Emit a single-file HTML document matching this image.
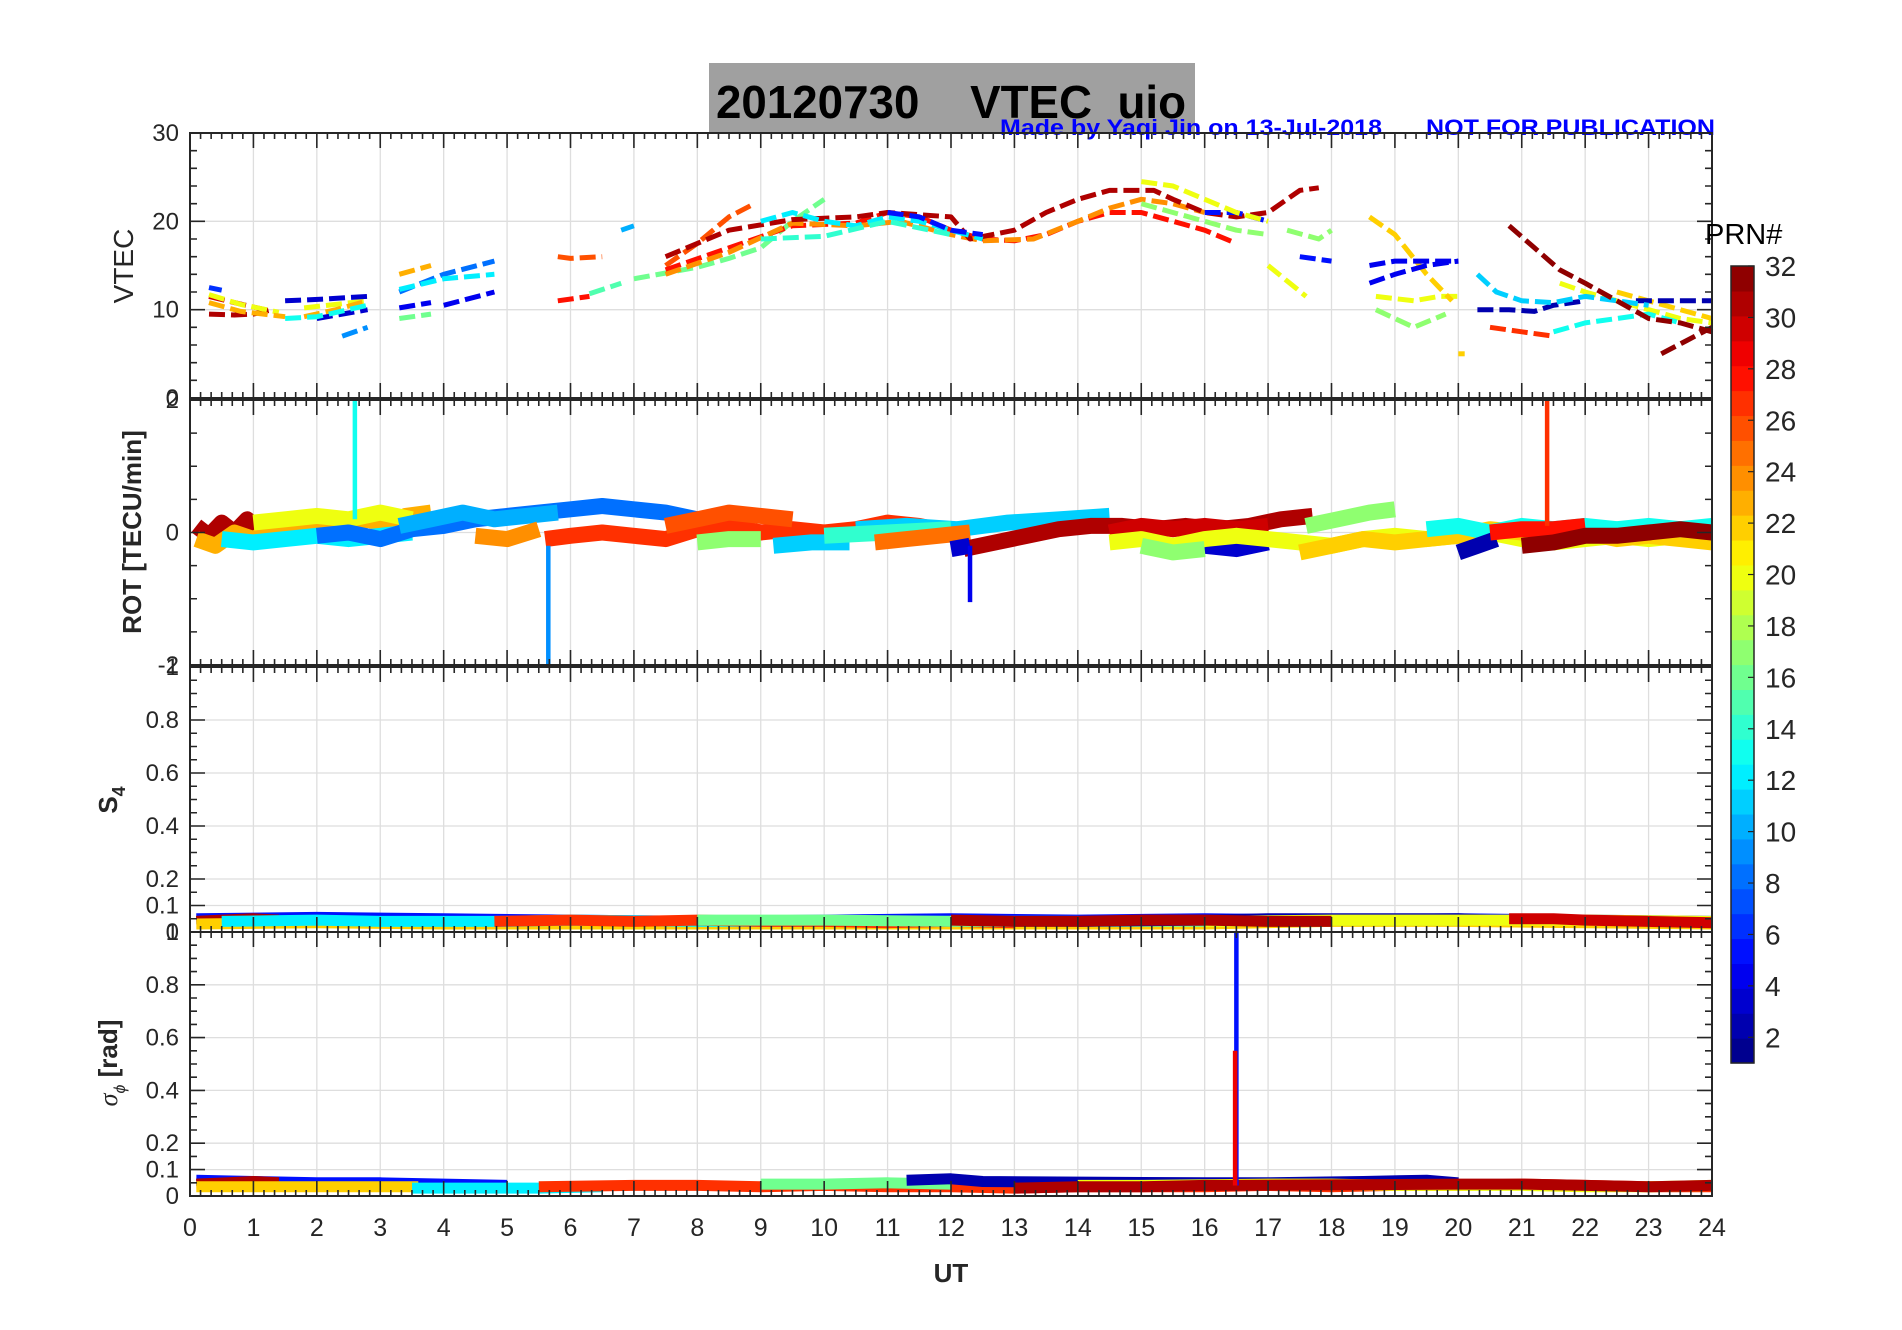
<!DOCTYPE html>
<html><head><meta charset="utf-8">
<style>
html,body{margin:0;padding:0;background:#fff;}
svg{display:block;font-family:"Liberation Sans",sans-serif;}
</style></head>
<body>
<svg id="fig" width="1902" height="1330" viewBox="0 0 1902 1330" xmlns="http://www.w3.org/2000/svg">
  <rect x="0" y="0" width="1902" height="1330" fill="#fff"/>
  <rect x="709" y="63" width="486" height="70" fill="#a0a0a0"/>
  <text x="716" y="118" font-size="46" font-weight="bold" fill="#000" xml:space="preserve" style="white-space:pre" textLength="470" lengthAdjust="spacingAndGlyphs">20120730    VTEC  uio</text>
  <text x="1000" y="135" font-size="22" font-weight="bold" fill="#0000ff" textLength="382" lengthAdjust="spacingAndGlyphs">Made by Yaqi Jin on 13-Jul-2018</text>
  <text x="1426" y="135" font-size="22" font-weight="bold" fill="#0000ff" textLength="289" lengthAdjust="spacingAndGlyphs">NOT FOR PUBLICATION</text>
  <g id="layer"></g>
</svg>
<script>
// ---------- DATA ----------
const vtecPrn = [31,30,20,20,23,23,6,3,3,13,8,12,4,4,23,9,16,26,28,15,10,26,16,28,24,31,12,14,5,5,5,20,20,20,20,17,17,17,22,22,22,4,4,2,2,11,27,13,32,32];
const vtecT = [
 [0.3,0.7,1.0,1.3],[0.3,0.7,1.0,1.3],[0.3,0.8,1.4],[1.8,2.3,2.8],[0.3,0.8,1.5],[1.8,2.3,2.8],[0.3,0.5],
 [1.5,2.1,2.8],[2.0,2.8],[1.5,2.0,2.8],[3.3,4.0,4.8],[3.3,4.0,4.8],[3.3,3.8],[4.0,4.8],[3.3,3.8],[2.4,2.8],[3.3,3.8],
 [5.8,6.0,6.5],[5.8,6.3],[6.3,6.8],[6.8,7.0],
 [7.5,8.0,8.5,8.9],[7.0,8.0,8.5,9.0,9.5,10.0],
 [7.5,8.5,9.5,10.5,11.0,11.5,12.0,12.5,13.0,13.5,14.0,14.5,15.0,15.5,16.0,16.5],
 [7.5,8.5,9.5,10.5,11.2,12.0,12.5,13.3,14.0,14.5,15.0,15.5,16.0],
 [7.5,8.5,9.5,10.5,11.0,12.0,12.3,13.0,13.5,14.0,14.5,15.2,15.5,16.0,16.5,17.0,17.5,17.8],
 [9.0,9.5,10.0,10.5,11.0,11.5,12.0,12.5],[9.0,10.0,11.0,12.0],
 [11.0,11.5,12.0,12.5],[16.0,16.5,17.0],[17.5,18.0],
 [15.0,15.5,16.0,16.5,17.0],[17.0,17.6],[18.7,19.3,19.7,20.0],[21.6,22.0,22.5,23.0,23.5,24.0],
 [15.0,15.5,16.0,16.5,17.0],[17.3,17.8,18.0],[18.7,19.3,19.8],
 [18.6,19.0,19.5,19.9],[20.0,20.1],[22.5,23.0,23.5,24.0],
 [18.6,19.0,19.5,20.0],[18.6,19.0,20.0],
 [20.3,20.8,21.2,21.5,22.0],[22.8,23.5,24.0],
 [20.3,20.6,21.0,21.5,22.0,22.5,23.0],[20.5,21.0,21.5],[21.5,22.0,22.5,23.0,23.5],
 [20.8,21.2,21.6,22.0,22.5,23.0,23.5,24.0],[23.2,23.6,24.0]
];
const vtecV = [
 [9.5,9.4,9.5,10.0],[11.5,10.8,10.3,9.8],[11.7,10.6,9.7],[10.2,10.6,11.0],[10.8,9.8,9.2],[9.2,10.0,11.0],[12.5,12.2],
 [11.0,11.2,11.5],[9.0,10.0],[9.0,9.2,10.5],[12.0,14.0,15.5],[12.3,13.5,14.0],[10.2,10.8],[10.5,12.0],[14.0,15.0],[7.0,8.0],[9.0,9.5],
 [16.0,15.8,16.0],[11.0,11.5],[11.8,13.0],[19.0,19.5],
 [15.0,17.5,20.5,22.0],[13.5,14.8,15.8,17.0,20.0,22.5],
 [14.5,17.0,19.5,19.8,21.0,20.5,19.0,18.0,17.8,18.5,20.0,21.0,21.0,20.0,19.0,17.5],
 [14.0,16.5,19.8,19.5,20.0,18.5,17.8,18.0,20.0,21.5,22.5,22.0,21.0],
 [16.0,19.0,20.2,20.5,21.0,20.5,18.0,19.0,21.0,22.5,23.5,23.5,22.5,21.0,20.5,21.0,23.5,23.8],
 [20.0,21.0,20.0,19.5,20.5,20.0,19.0,18.0],[18.0,18.3,20.0,18.5],
 [21.0,20.5,19.0,18.5],[21.0,21.0,20.0],[16.0,15.5],
 [24.5,24.0,22.5,21.0,20.0],[15.0,11.5],[11.5,11.0,11.5,11.5],[13.0,12.0,11.0,10.0,9.0,8.5],
 [22.0,21.0,20.0,19.0,18.5],[19.0,18.0,19.0],[10.0,8.0,9.5],
 [20.5,18.5,14.0,11.0],[5.0,5.0],[12.0,11.0,10.0,9.0],
 [13.0,14.0,15.0,15.5],[15.0,15.5,15.5],
 [10.0,10.0,9.8,10.5,11.0],[11.0,11.0,11.0],
 [14.0,12.0,11.0,10.8,11.5,11.0,10.5],[8.0,7.5,7.0],[7.5,8.5,9.0,9.5,8.5],
 [19.5,17.0,14.5,13.0,11.0,9.0,8.5,7.5],[5.0,6.5,8.0]
];

const rotPrn = [31,23,20,12,8,10,24,27,26,17,11,11,14,25,31,30,3,3,20,17,17,22,13,2,28,32];
const rotT = [
 [0.1,0.3,0.5,0.7,0.9,1.1,1.3],
 [0.1,0.4,0.7,1.0,1.3,1.6,1.9,2.2,2.5,2.8,3.1,3.4,3.8],
 [1.0,1.5,2.0,2.5,3.0,3.5],
 [0.5,1.0,1.5,2.0,2.5,3.0,3.5],
 [2.0,2.5,3.0,3.5,4.0,4.5,5.0,5.5,6.0,6.5,7.0,7.5,8.0],
 [3.3,3.8,4.3,4.8,5.3,5.8],
 [4.5,5.0,5.5],
 [5.6,6.0,6.5,7.0,7.5,8.0,8.5,9.0,9.5,10.0,10.5,11.0,11.5,12.0],
 [7.5,8.0,8.5,9.0,9.5],
 [8.0,8.5,9.0],
 [9.2,9.8,10.4],
 [10.5,11.3,12.1,12.9,13.7,14.5],
 [10.0,11.0,12.0],
 [10.8,11.3,11.8,12.3],
 [12.2,12.7,13.2,13.7,14.2,14.7,15.2,15.7,16.2,16.7,17.2,17.7],
 [14.5,15.0,15.5,16.0,16.5,17.0],
 [12.0,12.3],
 [16.0,16.5,17.0],
 [14.5,15.0,15.5,16.0,16.5,17.0,17.5,18.0,18.5,19.0,19.5,20.0,20.5,21.0,21.5,22.0,22.5,23.0,23.5,24.0],
 [15.0,15.5,16.0],
 [17.6,18.1,18.6,19.0],
 [17.5,18.0,18.5,19.0,19.5,20.0,20.5,21.0,21.5,22.0,22.5,23.0,23.5,24.0],
 [19.5,20.0,20.5,21.0,21.5,22.0,22.5,23.0,23.5,24.0],
 [20.0,20.3,20.6],
 [20.5,21.0,21.5,22.0],
 [21.0,21.5,22.0,22.5,23.0,23.5,24.0]
];
const rotV = [
 [0.1,-0.05,0.15,0.0,0.2,0.05,0.1],
 [-0.1,-0.2,0.0,-0.1,0.05,0.1,0.0,0.15,0.05,0.2,0.1,0.25,0.3],
 [0.15,0.2,0.25,0.2,0.3,0.2],
 [-0.1,-0.15,-0.1,-0.05,-0.1,-0.05,0.0],
 [-0.05,0.0,-0.1,0.05,0.1,0.2,0.25,0.3,0.35,0.4,0.35,0.3,0.2],
 [0.1,0.2,0.3,0.2,0.25,0.3],
 [-0.05,-0.1,0.05],
 [-0.1,-0.05,0.0,-0.05,-0.1,0.05,0.1,0.0,0.05,0.0,0.05,0.15,0.1,0.0],
 [0.1,0.2,0.3,0.25,0.2],
 [-0.15,-0.1,-0.1],
 [-0.2,-0.15,-0.15],
 [0.05,0.1,0.05,0.15,0.2,0.25],
 [-0.05,0.0,0.05],
 [-0.15,-0.1,-0.05,0.0],
 [-0.25,-0.15,-0.05,0.05,0.1,0.1,0.05,0.1,0.05,0.1,0.2,0.25],
 [0.0,0.1,0.05,0.1,0.05,0.1],
 [-0.25,-0.2],
 [-0.2,-0.25,-0.15],
 [-0.15,-0.1,-0.2,-0.1,-0.05,-0.1,-0.15,-0.2,-0.1,-0.05,-0.1,-0.05,0.0,-0.1,-0.15,-0.1,-0.05,-0.1,-0.05,-0.1],
 [-0.2,-0.3,-0.25],
 [0.1,0.2,0.3,0.35],
 [-0.3,-0.2,-0.1,-0.15,-0.1,-0.05,0.05,0.0,-0.05,0.0,-0.1,-0.05,-0.1,-0.15],
 [0.05,0.1,0.0,0.1,0.05,0.1,0.05,0.1,0.05,0.1],
 [-0.3,-0.2,-0.1],
 [0.0,0.05,0.05,0.1],
 [-0.2,-0.15,-0.05,-0.05,0.0,0.05,0.0]
];
const rotSpikeT = [2.6,5.65,21.4,12.3];
const rotSpikeFrom = [0.2,-0.2,0.1,-0.2];
const rotSpikeTo = [2.0,-2.0,2.0,-1.05];
const rotSpikePrn = [13,9,27,4];

const s4Prn = [5,31,22,12,27,16,2,20,31,30];
const s4T = [
 [0.1,2.0,4.0,6.0,8.0,10.0,12.0,14.0,16.0,18.0,20.0,22.0,24.0],
 [0.1,0.5,1.0,1.4],
 [0.1,2.0,4.0,6.0,8.0,10.0,12.0,14.0,16.0,18.0,20.0,22.0,24.0],
 [0.5,2.0,3.0,4.0,5.0,6.0,8.0,10.0,12.0],
 [4.8,6.0,7.0,8.0,9.0,10.0,11.0,12.0,13.0],
 [8.0,10.0,12.0,14.0,16.0,18.0,20.0],
 [14.0,16.0,17.0,20.0,20.5],
 [16.0,18.0,20.0,22.0,24.0],
 [12.0,13.0,14.0,15.0,16.0,17.0,18.0],
 [20.8,21.5,22.0,23.0,24.0]
];
const s4V = [
 [0.05,0.055,0.05,0.045,0.04,0.045,0.05,0.045,0.05,0.045,0.05,0.045,0.04],
 [0.04,0.045,0.05,0.045],
 [0.03,0.035,0.03,0.03,0.03,0.03,0.03,0.03,0.03,0.04,0.04,0.035,0.03],
 [0.04,0.045,0.04,0.04,0.04,0.045,0.04,0.04,0.04],
 [0.04,0.045,0.04,0.045,0.04,0.04,0.035,0.04,0.035],
 [0.045,0.045,0.04,0.04,0.04,0.045,0.045],
 [0.04,0.045,0.05,0.05,0.045],
 [0.04,0.045,0.045,0.045,0.04],
 [0.045,0.04,0.04,0.045,0.045,0.04,0.04],
 [0.05,0.05,0.045,0.04,0.035]
];

const sigPrn = [5,31,22,12,27,16,2,20,31];
const sigT = [
 [0.1,1.0,2.0,3.0,4.0,5.0],
 [0.1,0.6,1.0,1.4],
 [0.1,1.0,2.0,3.0,3.6],
 [3.5,4.5,5.5,6.5],
 [5.5,7.0,8.0,9.0,10.0,11.0,12.0,13.0,14.0,15.0,16.0,17.0,18.0,19.0,20.0,21.0,22.0,23.0,24.0],
 [9.0,10.0,11.0,12.0],
 [11.3,12.0,12.5,16.0,17.0,18.5,19.5,20.0],
 [14.0,15.0,17.0,18.0,19.0,20.0,21.0,22.0,23.0,24.0],
 [13.0,14.0,15.0,16.0,16.4,20.0,21.0,22.0,23.0,24.0]
];
const sigV = [
 [0.06,0.055,0.05,0.05,0.045,0.04],
 [0.045,0.05,0.055,0.05],
 [0.035,0.035,0.035,0.035,0.035],
 [0.03,0.03,0.03,0.035],
 [0.035,0.04,0.04,0.035,0.04,0.035,0.035,0.03,0.035,0.035,0.035,0.04,0.035,0.04,0.04,0.045,0.04,0.035,0.035],
 [0.045,0.045,0.05,0.045],
 [0.06,0.065,0.055,0.05,0.05,0.055,0.06,0.05],
 [0.04,0.04,0.045,0.045,0.04,0.04,0.04,0.035,0.035,0.04],
 [0.03,0.035,0.035,0.04,0.04,0.045,0.045,0.04,0.035,0.04]
];
const sigSpikeT = [16.5,16.48];
const sigSpikeTo = [1.0,0.55];
const sigSpikePrn = [5,29];

const xTicks = [0,1,2,3,4,5,6,7,8,9,10,11,12,13,14,15,16,17,18,19,20,21,22,23,24];
const vtecTicks = [0,10,20,30];
const rotTicks = [-2,0,2];
const s4Ticks = [0,0.1,0.2,0.4,0.6,0.8,1];
const cbTicks = [2,4,6,8,10,12,14,16,18,20,22,24,26,28,30,32];

// ---------- RENDER ----------
const NS = "http://www.w3.org/2000/svg";
const layer = document.getElementById('layer');
const X0 = 190, X1 = 1712;
function xs(h){ return X0 + (h/24)*(X1-X0); }
function jet(prn){
  const v = (prn-0.5)/32;
  const c = t => Math.round(255*Math.max(0,Math.min(1,1.5-Math.abs(4*v-t))));
  return `rgb(${c(3)},${c(2)},${c(1)})`;
}
function mk(tag, attrs, parent){
  const e = document.createElementNS(NS, tag);
  for (const k in attrs) e.setAttribute(k, attrs[k]);
  (parent||layer).appendChild(e);
  return e;
}
const panels = [
  {name:'vtec', top:133, bot:398, min:0, max:30, minor:2, ticks:vtecTicks},
  {name:'rot', top:400, bot:665, min:-2, max:2, minor:0.5, ticks:rotTicks},
  {name:'s4', top:667, bot:932, min:0, max:1, minor:0.05, ticks:s4Ticks},
  {name:'sigma', top:932, bot:1196, min:0, max:1, minor:0.05, ticks:s4Ticks}
];
function ysF(p){ return v => p.bot - (v-p.min)/(p.max-p.min)*(p.bot-p.top); }

panels.forEach(p => {
  const ys = ysF(p);
  const g = mk('g', {});
  
  
  xTicks.forEach(h => {
    if (h>0 && h<24){
      const l = mk('line',{x1:xs(h),x2:xs(h),y1:p.top,y2:p.bot,stroke:'#dedede','stroke-width':1.3},g);
      
      
    }
  });
  p.ticks.forEach(v => {
    if (v>p.min && v<p.max){
      const l = mk('line',{x1:X0,x2:X1,y1:ys(v),y2:ys(v),stroke:'#dedede','stroke-width':1.3},g);
      
      
    }
  });
  p.g = g;
});

function polyline(g, t, v, ys, prn, w, dash){
  const pts = t.map((h,i)=> xs(h).toFixed(1)+','+ys(v[i]).toFixed(1)).join(' ');
  const attrs = {points:pts, fill:'none', stroke:jet(prn), 'stroke-width':w, 'stroke-linejoin':'round','stroke-linecap':'butt'};
  if (dash) attrs['stroke-dasharray'] = dash;
  return mk('polyline', attrs, g);
}

{
  const p = panels[0], ys = ysF(p);
  vtecT.forEach((t,i)=>{
    const e = polyline(p.g, t, vtecV[i], ys, vtecPrn[i], 5, '16 6');
    
    
  });
}
{
  const p = panels[1], ys = ysF(p);
  rotT.forEach((t,i)=>{
    const e = polyline(p.g, t, rotV[i], ys, rotPrn[i], 16, null);
    
    
  });
  rotSpikeT.forEach((h,i)=>{
    const e = mk('line',{x1:xs(h),x2:xs(h),y1:ys(rotSpikeFrom[i]),y2:ys(rotSpikeTo[i]),stroke:jet(rotSpikePrn[i]),'stroke-width':4.5},p.g);
    
    
  });
}
{
  const p = panels[2], ys = ysF(p);
  s4T.forEach((t,i)=>{
    const e = polyline(p.g, t, s4V[i], ys, s4Prn[i], 11, null);
    
    
  });
}
{
  const p = panels[3], ys = ysF(p);
  sigT.forEach((t,i)=>{
    const e = polyline(p.g, t, sigV[i], ys, sigPrn[i], 11, null);
    
    
  });
  sigSpikeT.forEach((h,i)=>{
    const e = mk('line',{x1:xs(h),x2:xs(h),y1:ys(0.04),y2:ys(sigSpikeTo[i]),stroke:jet(sigSpikePrn[i]),'stroke-width':4.5},p.g);
    
    
  });
}

panels.forEach(p => {
  const ys = ysF(p);
  const g = mk('g',{});
  
  
  const b = mk('rect',{x:X0,y:p.top,width:X1-X0,height:p.bot-p.top,fill:'none',stroke:'#262626','stroke-width':2},g);
  
  
  let d = '';
  for (let m=0; m<=144; m++){
    const x = xs(m/6);
    const L = (m%6===0) ? 15 : 6;
    d += `M${x},${p.bot}v${-L}M${x},${p.top}v${L}`;
  }
  const n = Math.round((p.max-p.min)/p.minor);
  for (let k=0;k<=n;k++){
    const v = p.min + k*p.minor, y = ys(v);
    const major = p.ticks.some(t=>Math.abs(t-v)<1e-6);
    const L = major ? 15 : 7;
    d += `M${X0},${y}h${L}M${X1},${y}h${-L}`;
  }
  p.ticks.forEach(v=>{ const y=ys(v); d += `M${X0},${y}h15M${X1},${y}h-15`; });
  mk('path',{d:d,stroke:'#262626','stroke-width':1.6,fill:'none'},g);
  p.ticks.forEach(v=>{
    const t = mk('text',{x:179,y:ys(v)+8,'text-anchor':'end','font-size':24,fill:'#262626'},g);
    t.textContent = String(v);
    
    
  });
});
xTicks.forEach(h=>{
  const t = mk('text',{x:xs(h),y:1236,'text-anchor':'middle','font-size':25,fill:'#262626'});
  t.textContent = String(h);
  
  
});
{
  const cbX=1731, cbW=23, cbTop=266, cbBot=1063;
  const g = mk('g',{});
  
  
  const cy = v => cbBot - (v-1)/31*(cbBot-cbTop);
  const bandH = (cbBot-cbTop)/32;
  for (let i=1;i<=32;i++){
    const r = mk('rect',{x:cbX,y:cbBot-i*bandH,width:cbW,height:bandH+0.6,fill:jet(i)},g);
    
    
  }
  mk('rect',{x:cbX,y:cbTop,width:cbW,height:cbBot-cbTop,fill:'none',stroke:'#262626','stroke-width':1.5},g);
  cbTicks.forEach(v=>{
    mk('line',{x1:cbX+cbW-6,x2:cbX+cbW,y1:cy(v),y2:cy(v),stroke:'#262626','stroke-width':1.2},g);
    const t = mk('text',{x:1765,y:cy(v)+10,'font-size':28,fill:'#262626'},g);
    t.textContent = String(v);
    
    
  });
}
</script>
<svg style="position:absolute;left:0;top:0" width="1902" height="1330" xmlns="http://www.w3.org/2000/svg" font-family="Liberation Sans, sans-serif">
  <text x="1705" y="244" font-size="29" fill="#000">PRN#</text>
  <text transform="translate(133,266) rotate(-90)" text-anchor="middle" font-size="28" fill="#262626">VTEC</text>
  <text transform="translate(141,532) rotate(-90)" text-anchor="middle" font-size="26" font-weight="bold" fill="#262626">ROT [TECU/min]</text>
  <text transform="translate(117,800) rotate(-90)" text-anchor="middle" font-size="26" font-weight="bold" fill="#262626">S<tspan font-size="18" dy="8">4</tspan></text>
  <text transform="translate(117,1063) rotate(-90)" text-anchor="middle" font-size="26" font-weight="bold" fill="#262626"><tspan font-family="Liberation Serif, serif" font-style="italic" font-weight="normal">σ</tspan><tspan font-size="16" dy="8" font-style="italic" font-weight="normal">ϕ</tspan><tspan dy="-8"> [rad]</tspan></text>
  <text x="951" y="1282" text-anchor="middle" font-size="26" font-weight="bold" fill="#262626">UT</text>
</svg>
</body></html>
